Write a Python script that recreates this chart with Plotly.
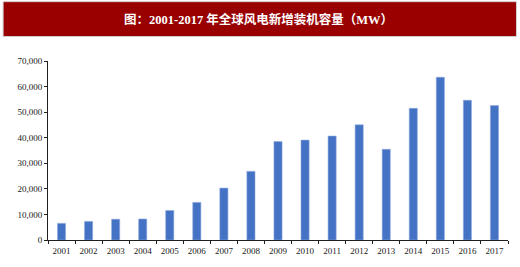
import plotly.graph_objects as go

years = ["2001", "2002", "2003", "2004", "2005", "2006", "2007", "2008", "2009",
         "2010", "2011", "2012", "2013", "2014", "2015", "2016", "2017"]
capacity_mw = [6500, 7270, 8130, 8210, 11530, 14700, 20310, 26850, 38480,
               39060, 40640, 45030, 35470, 51480, 63630, 54640, 52550]
y_ticks = [0, 10000, 20000, 30000, 40000, 50000, 60000, 70000]
y_tick_labels = ["0", "10,000", "20,000", "30,000", "40,000", "50,000", "60,000", "70,000"]
title_text = "图：2001-2017 年全球风电新增装机容量（MW）"

L, R, T, B = 47.5, 11.5, 60.5, 27
W, H = 520, 267
pw, ph = W - L - R, H - T - B

def px_x(x):
    return (x - L) / pw

def px_y(y):
    return (H - B - y) / ph

fig = go.Figure(go.Bar(
    x=years, y=capacity_mw, width=0.3,
    marker=dict(color="#4472C4", line=dict(color="#8FAADC", width=0.6)),
))

fig.update_layout(
    width=W, height=H,
    margin=dict(l=L, r=R, t=T, b=B, pad=0),
    paper_bgcolor="white", plot_bgcolor="white",
    showlegend=False,
    bargap=0.7,
    shapes=[dict(type="rect", xref="paper", yref="paper",
                 x0=px_x(2.5), x1=px_x(517), y0=px_y(36), y1=px_y(1),
                 fillcolor="#990000", line=dict(color="#D0D0D0", width=1), layer="above")],
    annotations=[dict(text="<b>" + title_text + "</b>", xref="paper", yref="paper",
                      x=px_x(258), y=px_y(18.5), xanchor="center", yanchor="middle",
                      showarrow=False,
                      font=dict(family="Liberation Serif, Noto Sans CJK SC", size=12.5, color="white"))],
)

fig.update_xaxes(
    type="category", showgrid=False, showline=True, linecolor="#202020", linewidth=1,
    ticks="outside", ticklen=3, tickcolor="#202020", tickson="boundaries",
    tickangle=0, automargin=False, ticklabelstandoff=2,
    tickfont=dict(family="Liberation Serif", size=9, color="#202020"),
    fixedrange=True,
)
fig.update_yaxes(
    range=[0, 70000], tickvals=y_ticks, ticktext=y_tick_labels,
    showgrid=False, showline=True, linecolor="#202020", linewidth=1,
    ticks="outside", ticklen=3, tickcolor="#202020", zeroline=False,
    automargin=False,
    tickfont=dict(family="Liberation Serif", size=9, color="#202020"),
    fixedrange=True,
)

fig.write_html("out.html", config={"displayModeBar": False})
